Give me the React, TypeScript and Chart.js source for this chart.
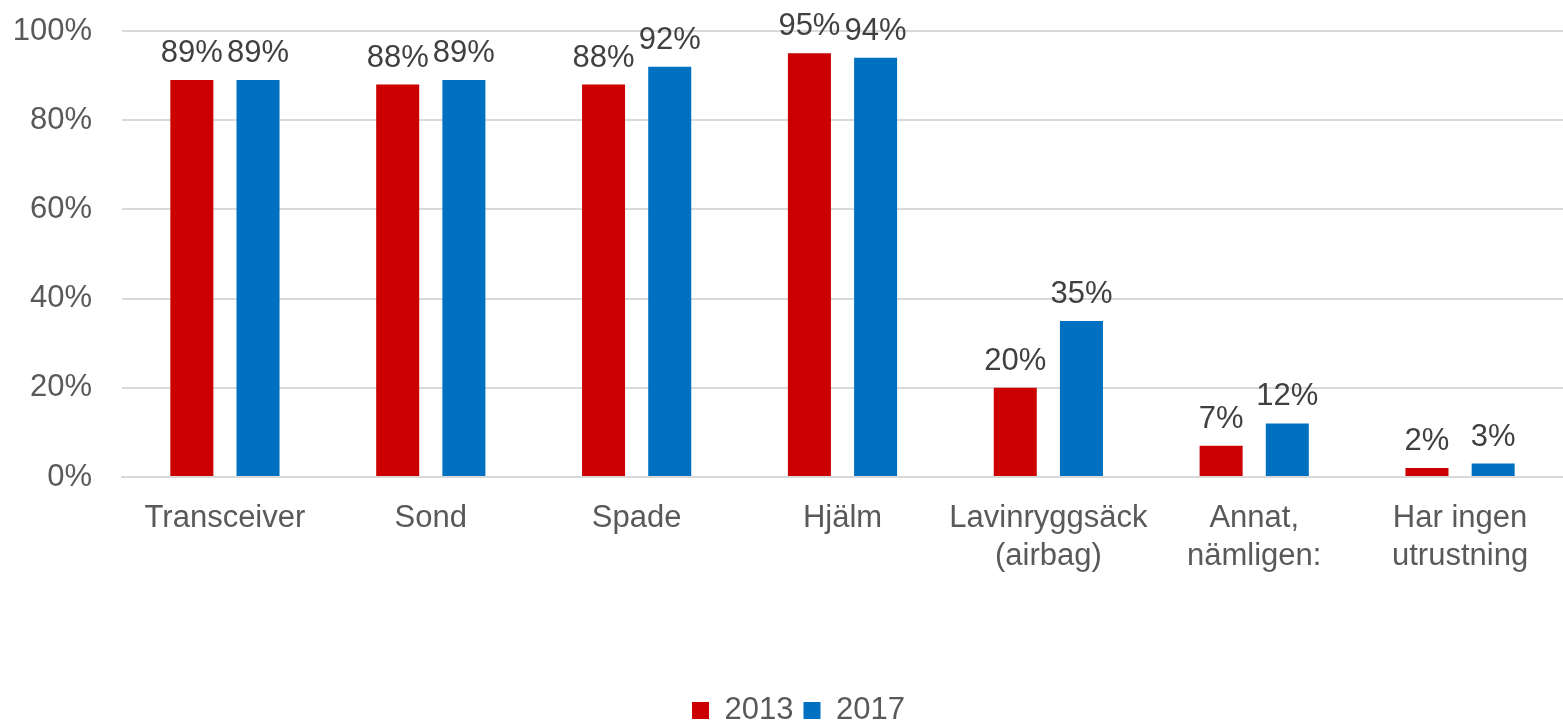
import React, { useEffect, useRef } from "react";
import { Chart, registerables } from "chart.js";

Chart.register(...registerables);

const categories: (string | string[])[] = [
  "Transceiver",
  "Sond",
  "Spade",
  "Hjälm",
  ["Lavinryggsäck", "(airbag)"],
  ["Annat,", "nämligen:"],
  ["Har ingen", "utrustning"],
];
const values2013 = [89, 88, 88, 95, 20, 7, 2];
const values2017 = [89, 89, 92, 94, 35, 12, 3];
const seriesLabels = ["2013", "2017"];
const yTicks = [0, 20, 40, 60, 80, 100];

const FONT = "'Liberation Sans', Arial, sans-serif";

const dataLabelPlugin = {
  id: "dataLabels",
  afterDatasetsDraw(chart: any) {
    const ctx = chart.ctx;
    ctx.save();
    ctx.font = `31px ${FONT}`;
    ctx.fillStyle = "#404040";
    ctx.textAlign = "center";
    ctx.textBaseline = "alphabetic";
    chart.data.datasets.forEach((ds: any, di: number) => {
      const meta = chart.getDatasetMeta(di);
      meta.data.forEach((bar: any, i: number) => {
        ctx.fillText(`${ds.data[i]}%`, bar.x, bar.y - 18);
      });
    });
    ctx.restore();
  },
};

const legendShiftPlugin = {
  id: "legendShift",
  afterLayout(chart: any) {
    if (chart.legend) {
      chart.legend.left += 17;
      chart.legend.right += 17;
    }
  },
};

export default function App() {
  const ref = useRef<HTMLCanvasElement>(null);
  useEffect(() => {
    if (!ref.current) return;
    const chart = new Chart(ref.current, {
      type: "bar",
      data: {
        labels: categories,
        datasets: [
          {
            label: seriesLabels[0],
            data: values2013,
            backgroundColor: "#CC0000",
            categoryPercentage: 0.643,
            barPercentage: 0.65,
          },
          {
            label: seriesLabels[1],
            data: values2017,
            backgroundColor: "#0070C0",
            categoryPercentage: 0.643,
            barPercentage: 0.65,
          },
        ],
      },
      options: {
        animation: false,
        responsive: false,
        maintainAspectRatio: false,
        layout: { padding: { top: 31, right: 0, left: 0, bottom: -13 } },
        plugins: {
          legend: {
            position: "bottom",
            labels: {
              boxWidth: 17,
              boxHeight: 17,
              padding: 10,
              color: "#595959",
              font: { family: FONT, size: 31 },
            },
          },
          tooltip: { enabled: false },
        },
        scales: {
          x: {
            grid: { display: false, drawTicks: false },
            border: { display: true, color: "#d9d9d9", width: 2 },
            ticks: {
              color: "#595959",
              font: { family: FONT, size: 31, lineHeight: 1.23 },
              padding: 22,
              maxRotation: 0,
              autoSkip: false,
            },
            afterFit(scale: any) {
              scale.height = 208;
              scale.paddingLeft = 0;
              scale.paddingRight = 0;
            },
          },
          y: {
            min: 0,
            max: 100,
            afterBuildTicks(scale: any) {
              scale.ticks = yTicks.map((v) => ({ value: v }));
            },
            grid: { color: "#d9d9d9", lineWidth: 2, drawTicks: false },
            border: { display: false },
            ticks: {
              color: "#595959",
              font: { family: FONT, size: 31 },
              padding: 30,
              callback: (v: any) => `${v}%`,
            },
            afterFit(scale: any) {
              scale.width = 122;
              scale.paddingTop = 0;
              scale.paddingBottom = 0;
            },
          },
        },
      },
      plugins: [dataLabelPlugin, legendShiftPlugin],
    } as any);
    return () => chart.destroy();
  }, []);
  return (
    <div style={{ position: "absolute", left: 0, top: 0, width: 1563, height: 723, background: "#fff" }}>
      <canvas ref={ref} width={1563} height={723} />
    </div>
  );
}
